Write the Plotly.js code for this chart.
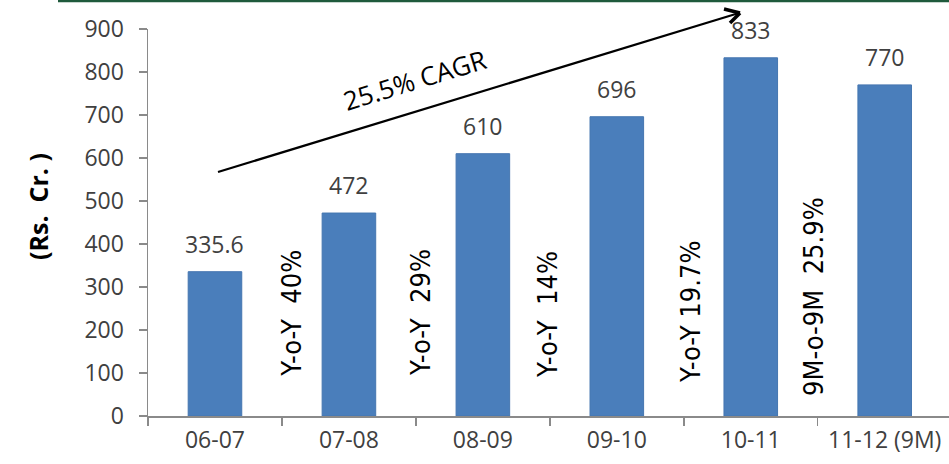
<!DOCTYPE html>
<html>
<head>
<meta charset="utf-8">
<script src="https://cdn.plot.ly/plotly-3.0.1.min.js"></script>
<style>html,body{margin:0;padding:0;background:#fff;}#chart{width:949px;height:464px;}</style>
</head>
<body>
<div id="chart"></div>
<script>
var categories = ["06-07", "07-08", "08-09", "09-10", "10-11", "11-12 (9M)"];
var revenue = [335.6, 472, 610, 696, 833, 770];
var valueLabels = ["335.6", "472", "610", "696", "833", "770"];
var growthLabels = ["Y-o-Y  40%", "Y-o-Y  29%", "Y-o-Y  14%", "Y-o-Y 19.7%", "9M-o-9M  25.9%"];
var cagrLabel = "25.5% CAGR";
var yTicks = [0, 100, 200, 300, 400, 500, 600, 700, 800, 900];

var W = 949, H = 464, L = 148, T = 29, B = 48, R = 0;
var pw = W - L - R, ph = H - T - B;
function PX(x) { return (x - L) / pw; }
function PY(y) { return (H - B - y) / ph; }

var baseFam = "Open Sans, DejaVu Sans, sans-serif";
var tickFont = {family: baseFam, size: 23, color: "#404040"};
var narrow = {family: "Liberation Sans Narrow, Arial Narrow, DejaVu Sans Condensed, sans-serif", size: 27, color: "#000"};

var trace = {
  type: "bar",
  x: categories,
  y: revenue,
  marker: {color: "#4a7ebb", line: {color: "#4576b0", width: 1}},
  width: 0.4,
  hoverinfo: "x+y"
};

var annotations = [];
for (var i = 0; i < categories.length; i++) {
  annotations.push({
    x: i, y: revenue[i], xref: "x", yref: "y",
    text: valueLabels[i], showarrow: false,
    yanchor: "bottom", yshift: 10,
    font: {family: baseFam, size: 23, color: "#404040"}
  });
}
var gx = [290.7, 420, 547, 690, 813];
var gy = [313, 313, 315, 312, 297];
for (var j = 0; j < growthLabels.length; j++) {
  annotations.push({
    x: PX(gx[j]), y: PY(gy[j]), xref: "paper", yref: "paper",
    text: growthLabels[j], showarrow: false, textangle: -90,
    xanchor: "center", yanchor: "middle", font: narrow
  });
}
annotations.push({
  x: PX(414), y: PY(80), xref: "paper", yref: "paper",
  text: cagrLabel, showarrow: false, textangle: -17,
  xanchor: "center", yanchor: "middle",
  font: {family: baseFam, size: 26, color: "#000"}
});
annotations.push({
  x: PX(38), y: PY(207), xref: "paper", yref: "paper",
  text: "<b>(Rs.  Cr. )</b>", showarrow: false, textangle: -90,
  xanchor: "center", yanchor: "middle",
  font: {family: baseFam, size: 25, color: "#000"}
});

var shapes = [
  {type: "line", xref: "paper", yref: "paper", x0: PX(58), x1: PX(949), y0: PY(1), y1: PY(1),
   line: {color: "#1f5a3c", width: 2.5}},
  {type: "line", xref: "paper", yref: "paper", x0: PX(218), y0: PY(172), x1: PX(739), y1: PY(13),
   line: {color: "#000", width: 2.2}},
  {type: "line", xref: "paper", yref: "paper", x0: PX(724), y0: PY(9), x1: PX(740), y1: PY(13),
   line: {color: "#000", width: 3.5}},
  {type: "line", xref: "paper", yref: "paper", x0: PX(740), y0: PY(13), x1: PX(730), y1: PY(23),
   line: {color: "#000", width: 3.5}}
];

var layout = {
  width: W, height: H,
  margin: {l: L, r: R, t: T, b: B, pad: 0},
  paper_bgcolor: "#fff", plot_bgcolor: "#fff",
  showlegend: false,
  xaxis: {
    type: "category", range: [-0.5, 5.48],
    showline: true, linecolor: "#8a8a8a", linewidth: 1.5,
    ticks: "outside", tickson: "boundaries", ticklen: 8, tickcolor: "#8a8a8a", tickwidth: 1.5,
    showgrid: false, zeroline: false, tickfont: tickFont, ticklabelstandoff: 3, fixedrange: true
  },
  yaxis: {
    range: [0, 900], tickvals: yTicks,
    showline: true, linecolor: "#8a8a8a", linewidth: 1.5,
    ticks: "outside", ticklen: 8, tickcolor: "#8a8a8a", tickwidth: 1.5,
    showgrid: false, zeroline: false, tickfont: tickFont, ticklabelstandoff: 10, fixedrange: true
  },
  annotations: annotations,
  shapes: shapes
};

Plotly.newPlot("chart", [trace], layout, {displayModeBar: false, staticPlot: true});
</script>
</body>
</html>
